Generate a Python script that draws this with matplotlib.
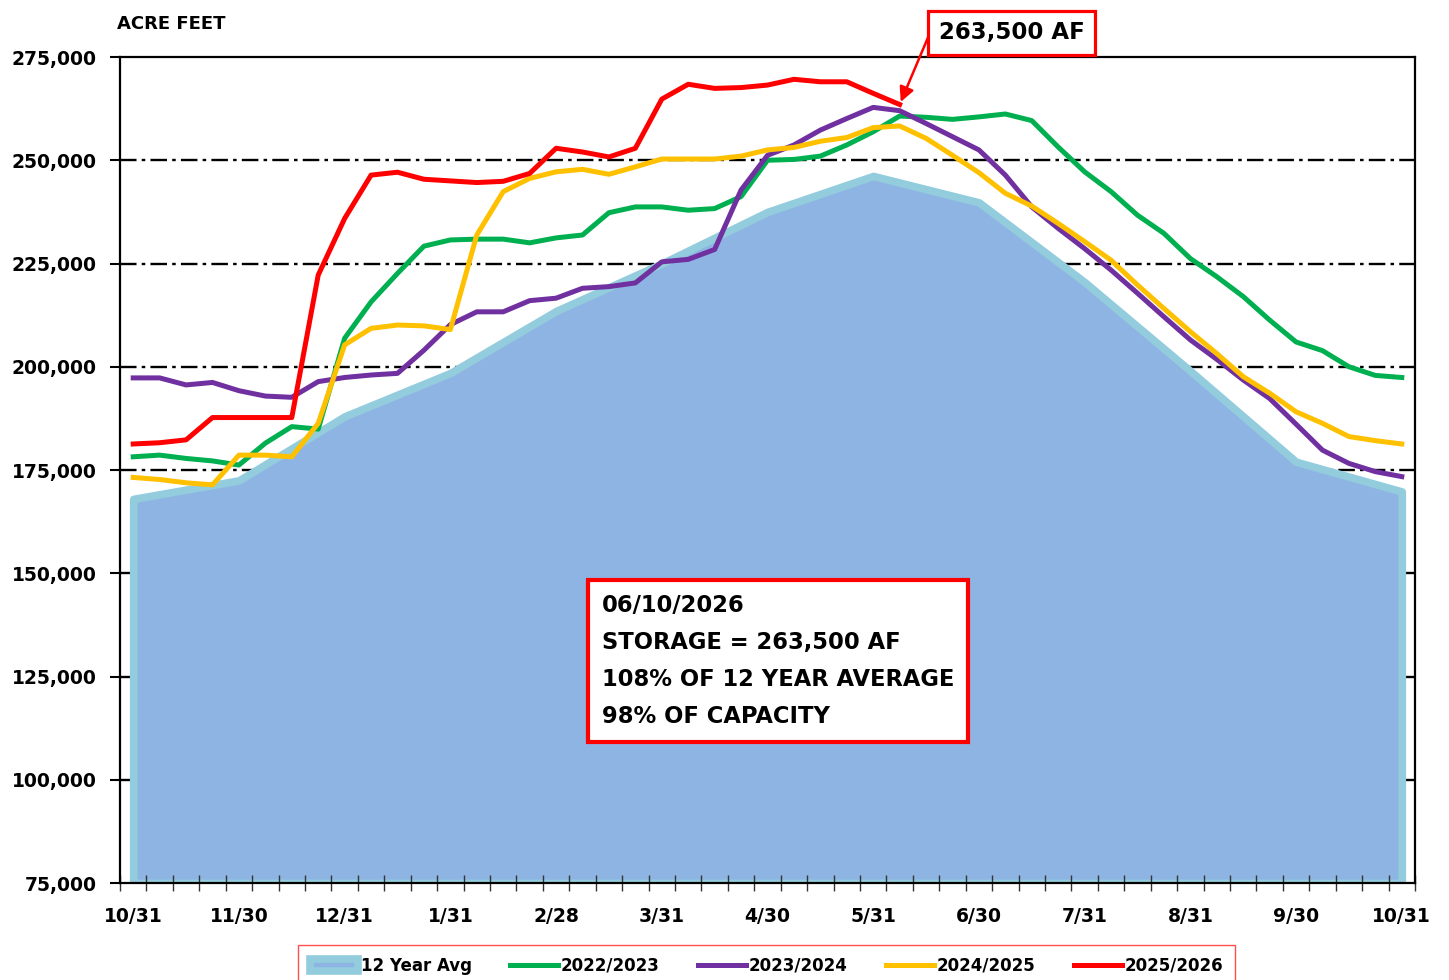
import matplotlib
matplotlib.use("Agg")
import matplotlib.pyplot as plt
from matplotlib.ticker import FuncFormatter

# category axis: weekly points, labelled every 4th
tick_labels = ["10/31", "11/30", "12/31", "1/31", "2/28", "3/31", "4/30",
               "5/31", "6/30", "7/31", "8/31", "9/30", "10/31"]
n_points = 49

# 12 year average, one value per month end
avg_12yr = [168000, 172500, 188000, 198500, 213500, 225000, 237500,
            246200, 239800, 220500, 199000, 177000, 169800]

wy_2022 = [178200, 178600, 177800, 177200, 176200, 181500, 185500, 184900,
           206900, 215700, 222600, 229200, 230700, 230900, 230900, 230000,
           231200, 231900, 237300, 238700, 238700, 237900, 238300, 241200,
           250000, 250200, 251000, 253700, 256900, 260700, 260400, 259900,
           260500, 261200, 259600, 253200, 247200, 242400, 236700, 232300,
           226200, 221800, 217000, 211300, 206000, 203900, 200000, 197900,
           197400]

wy_2023 = [197300, 197300, 195600, 196200, 194200, 192900, 192600, 196400,
           197400, 198000, 198400, 204000, 210200, 213300, 213300, 216000,
           216600, 219000, 219400, 220300, 225400, 226000, 228400, 242800,
           251200, 253700, 257300, 260100, 262800, 262000, 258900, 255700,
           252500, 246400, 238700, 233500, 228600, 223400, 217800, 212100,
           206500, 201800, 196800, 192300, 186100, 179800, 176600, 174600,
           173400]

wy_2024 = [173200, 172700, 171900, 171400, 178600, 178600, 178200, 186300,
           205300, 209300, 210100, 209900, 209000, 231900, 242400, 245600,
           247200, 247800, 246600, 248400, 250300, 250300, 250300, 251000,
           252500, 253100, 254600, 255500, 257900, 258300, 255300, 251200,
           247000, 242000, 238900, 234700, 230300, 225800, 219800, 214100,
           208500, 203200, 197600, 193600, 189100, 186300, 183100, 182100,
           181300]

wy_2025 = [181300, 181600, 182300, 187700, 187700, 187700, 187700, 222200,
           235900, 246400, 247100, 245400, 245000, 244600, 244900, 246800,
           252900, 252000, 250800, 252900, 264800, 268400, 267400, 267600,
           268200, 269600, 269000, 269000, 266200, 263500]

series = [
    ("2022/2023", wy_2022, "#00B050"),
    ("2023/2024", wy_2023, "#7030A0"),
    ("2024/2025", wy_2024, "#FFC000"),
    ("2025/2026", wy_2025, "#FF0000"),
]

report_date = "06/10/2026"
pct_of_avg = "108%"
pct_of_capacity = "98%"

W, H = 1449, 980
fig = plt.figure(figsize=(W / 100, H / 100), dpi=100)
ax = fig.add_axes([120 / W, 1 - 883 / H, 1295 / W, 826 / H])

ymin, ymax, ystep = 75000, 275000, 25000
ax.set_xlim(-0.5, n_points - 0.5)
ax.set_ylim(ymin, ymax)

# dash-dot gridlines sit behind the area
for v in range(ymin + ystep, ymax, ystep):
    ax.axhline(v, color="black", lw=1.7, ls=(0, (7, 2.2, 1.5, 2.2)), zorder=0.5)

avg_x = list(range(0, n_points, 4))
ax.fill_between(avg_x, avg_12yr, ymin, facecolor="#8EB4E3", edgecolor="#93CDDD",
                lw=5.5, label="12 Year Avg", zorder=1)

for name, values, color in series:
    ax.plot(range(len(values)), values, color=color, lw=3.6, label=name, zorder=3)

ax.set_yticks(range(ymin, ymax + 1, ystep))
ax.yaxis.set_major_formatter(FuncFormatter(lambda v, p: f"{v:,.0f}"))
ax.tick_params(axis="y", length=7, width=1.5, pad=10, labelsize=13.5)
for lab in ax.get_yticklabels():
    lab.set_fontweight("bold")

ax.set_xticks(avg_x)
ax.set_xticklabels(tick_labels, fontsize=13.5, fontweight="bold")
ax.set_xticks([i - 0.5 for i in range(n_points + 1)], minor=True)
ax.tick_params(axis="x", which="major", length=0, pad=17)
ax.tick_params(axis="x", which="minor", direction="inout", length=11, width=1,
               color="#333333")

for side in ["left", "right", "top", "bottom"]:
    ax.spines[side].set_linewidth(1.6)
    ax.spines[side].set_color("black")

fig.text(117 / W, 1 - 24 / H, "ACRE FEET", fontsize=13, fontweight="bold",
         ha="left", va="center")

# current storage callout with arrow to the last point
last = len(wy_2025) - 1
fig.text(1011.5 / W, 1 - 33 / H, f"{wy_2025[-1]:,} AF", ha="center", va="center",
         fontsize=16.5, fontweight="bold", zorder=6,
         bbox=dict(boxstyle="square,pad=0.45", fc="white", ec="red", lw=2.3))
ax.annotate("", xy=(last, wy_2025[-1]), xycoords="data",
            xytext=(932 / W, 1 - 28 / H), textcoords="figure fraction",
            arrowprops=dict(arrowstyle="-|>", color="red", lw=1.8,
                            mutation_scale=22, shrinkA=0, shrinkB=2),
            annotation_clip=False, zorder=6)

info = (f"{report_date}\nSTORAGE = {wy_2025[-1]:,} AF\n"
        f"{pct_of_avg} OF 12 YEAR AVERAGE\n{pct_of_capacity} OF CAPACITY")
fig.text(778 / W, 1 - 661 / H, info, ha="center", va="center", multialignment="left",
         fontsize=16.3, fontweight="bold", linespacing=1.78, zorder=6,
         bbox=dict(boxstyle="square,pad=0.6", fc="white", ec="red", lw=3))

leg = fig.legend(loc="upper center", bbox_to_anchor=(766.5 / W, 1 - 945 / H), ncol=5,
                 prop={"size": 12, "weight": "bold"}, frameon=True, fancybox=False,
                 edgecolor="#FF5050", framealpha=1, handlelength=2.9,
                 handletextpad=0.15, columnspacing=2.3, borderpad=0.7,
                 borderaxespad=0)
leg.get_frame().set_linewidth(1)

fig.savefig("out.png", dpi=100)
